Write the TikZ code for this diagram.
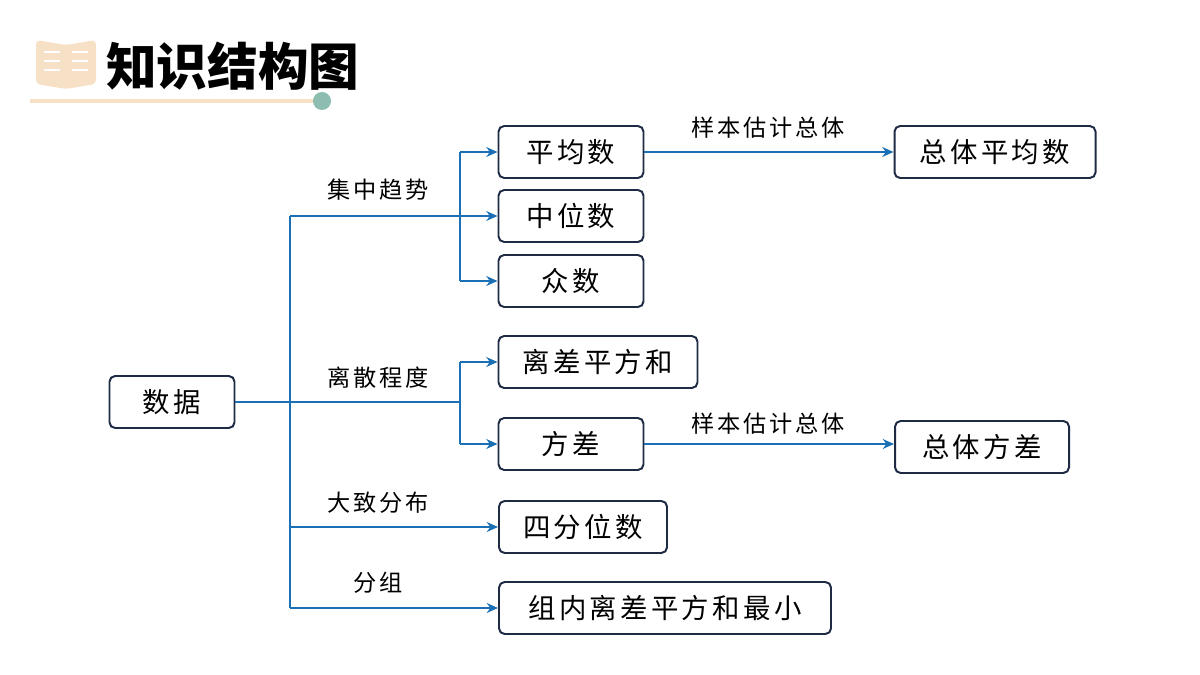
\documentclass[tikz,border=0pt]{standalone}
\usepackage{fontspec}
\setmainfont{Noto Sans CJK SC}
\newfontfamily\spaced[LetterSpace=12]{Noto Sans CJK SC}
\usepackage{tikz}
\usetikzlibrary{positioning,arrows.meta}
\definecolor{linkblue}{HTML}{1A6FB5}
\definecolor{boxnavy}{HTML}{1F2A44}
\definecolor{beige}{HTML}{F7E1C6}
\definecolor{teal}{HTML}{8DBDB0}
\begin{document}
\begin{tikzpicture}[x=0.025cm,y=-0.025cm,
  box/.style={draw=boxnavy, line width=1.4pt, rounded corners=4pt, minimum height=52*0.025cm, inner xsep=0pt, font=\spaced\fontsize{19.5}{19.5}\selectfont},
  lbl/.style={font=\spaced\fontsize{16.5}{16.5}\selectfont},
  link/.style={draw=linkblue, line width=1.8pt},
  arr/.style={link, -{Stealth[length=8pt,width=7pt]}}]
\useasboundingbox (0,0) rectangle (1200,675);
% title
\fill[beige] (30,99) rectangle (322,103);
\fill[teal] (322,101) circle (9);
\fill[beige, rounded corners=3pt] (36,40) -- (66,45) -- (96,40) -- (96,84) -- (66,89) -- (36,84) -- cycle;
\foreach \y in {52,61,70} {
  \draw[white, line width=1.8pt] (44,\y) -- (60,\y);
  \draw[white, line width=1.8pt] (72,\y) -- (88,\y);
}
\node[font=\fontsize{36}{36}\selectfont\bfseries, anchor=west, inner xsep=0pt] (title) at (106,66) {知识结构图};
% nodes
\node[box, minimum width=125*0.025cm] (data) at (172,402) {数据};
\node[box, minimum width=145*0.025cm] (mean) at (571,152) {平均数};
\node[box, minimum width=145*0.025cm] (median) at (571,216) {中位数};
\node[box, minimum width=145*0.025cm] (mode) at (571,281) {众数};
\node[box, minimum width=199*0.025cm] (ssd) at (598,362) {离差平方和};
\node[box, minimum width=145*0.025cm] (var) at (571,444) {方差};
\node[box, minimum width=168*0.025cm] (quart) at (583,527) {四分位数};
\node[box, minimum width=332*0.025cm] (group) at (665,608) {组内离差平方和最小};
\node[box, minimum width=201*0.025cm] (pmean) at (995,152) {总体平均数};
\node[box, minimum width=174*0.025cm] (pvar) at (982,447) {总体方差};
% trunk
\coordinate (t0) at (290,402);
\coordinate (t1) at (290,216);
\coordinate (t2) at (290,608);
\coordinate (b1) at (460,216);
\coordinate (b2) at (460,402);
\draw[link] (data.east) -- (t0);
\draw[link] (t1) -- (t2);
\draw[link] (t1) -- (b1);
\draw[link] (t0) -- (b2);
\draw[link] (460,152) -- (460,281);
\draw[link] (460,362) -- (460,444);
\draw[arr] (460,152) -- (mean.west);
\draw[arr] (b1) -- (median.west);
\draw[arr] (460,281) -- (mode.west);
\draw[arr] (460,362) -- (ssd.west);
\draw[arr] (460,444) -- (var.west);
\draw[arr] (290,527) -- (quart.west);
\draw[arr] (t2) -- (group.west);
\draw[arr] (mean.east) -- (pmean.west);
\draw[arr] (var.east) -- (pvar.west |- var.east);
% labels
\node[lbl] (l1) at (378,190) {集中趋势};
\node[lbl] (l2) at (378,378) {离散程度};
\node[lbl] (l3) at (378,503) {大致分布};
\node[lbl] (l4) at (378,583) {分组};
\node[lbl] (l5) at (768,128) {样本估计总体};
\node[lbl] (l6) at (768,424) {样本估计总体};
\end{tikzpicture}
\end{document}
